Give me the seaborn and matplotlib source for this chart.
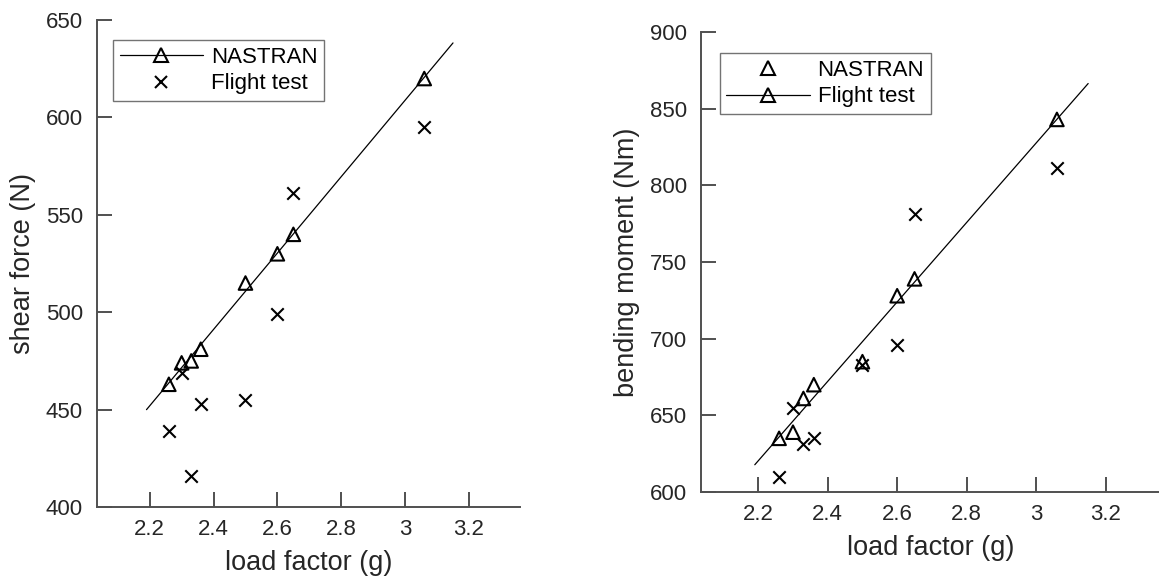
import numpy as np
import pandas as pd
import matplotlib
matplotlib.use("Agg")
import matplotlib.pyplot as plt
from matplotlib.lines import Line2D
import seaborn as sns

# -----------------------------
# Data
# -----------------------------
load_factor = [2.26, 2.30, 2.33, 2.36, 2.50, 2.60, 2.65, 3.06]

shear_nastran = [463, 474, 475, 481, 515, 530, 540, 620]
shear_flight = [439, 469, 416, 453, 455, 499, 561, 595]

moment_nastran = [635, 639, 661, 670, 685, 728, 739, 843]
moment_flight = [610, 655, 631, 635, 683, 696, 781, 811]

fit_range = [2.19, 3.15]

x_ticks = [2.2, 2.4, 2.6, 2.8, 3.0, 3.2]
x_tick_labels = ["2.2", "2.4", "2.6", "2.8", "3", "3.2"]

# -----------------------------
# Style
# -----------------------------
sns.set_style("ticks")
plt.rcParams['font.family'] = ['Liberation Sans', 'DejaVu Sans']
axis_grey = "#505050"
text_grey = "#262626"

fig = plt.figure(figsize=(11.59, 5.81), dpi=100)
ax1 = fig.add_axes([0.0837, 0.1274, 0.365, 0.838])
ax2 = fig.add_axes([0.6048, 0.1532, 0.397, 0.7917])


def draw_panel(ax, nastran, flight, ylim, yticks, ylabel):
    df = pd.DataFrame({"n": load_factor, "nastran": nastran, "flight": flight})
    # linear fit of NASTRAN values
    coef = np.polyfit(df["n"], df["nastran"], 1)
    fit_df = pd.DataFrame({"n": fit_range, "y": np.polyval(coef, fit_range)})
    sns.lineplot(data=fit_df, x="n", y="y", ax=ax, color="black", lw=0.9)
    sns.scatterplot(data=df, x="n", y="nastran", ax=ax, marker="^", s=95,
                    facecolor="none", edgecolor="black", linewidth=1.5, zorder=3)
    sns.scatterplot(data=df, x="n", y="flight", ax=ax, marker="x", s=80,
                    color="black", linewidth=1.5, zorder=3)

    ax.set_xlim(2.035, 3.36)
    ax.set_ylim(*ylim)
    ax.set_xticks(x_ticks)
    ax.set_xticklabels(x_tick_labels)
    ax.set_yticks(yticks)
    ax.tick_params(direction="in", length=11, width=1.4, color=axis_grey,
                   labelsize=16, labelcolor=text_grey)
    ax.tick_params(axis="x", pad=9)
    ax.tick_params(axis="y", pad=10)
    for side in ["top", "right"]:
        ax.spines[side].set_visible(False)
    for side in ["left", "bottom"]:
        ax.spines[side].set_color(axis_grey)
        ax.spines[side].set_linewidth(1.4)
    ax.set_xlabel("load factor (g)", fontsize=19.5, color=text_grey, labelpad=7)
    ax.set_ylabel(ylabel, fontsize=19.5, color=text_grey, labelpad=7)


draw_panel(ax1, shear_nastran, shear_flight, (400, 650),
           [400, 450, 500, 550, 600, 650], "shear force (N)")
draw_panel(ax2, moment_nastran, moment_flight, (600, 900),
           [600, 650, 700, 750, 800, 850, 900], "bending moment (Nm)")

tri_line = Line2D([], [], color="black", lw=0.9, marker="^", markersize=10,
                  markerfacecolor="none", markeredgecolor="black", markeredgewidth=1.5)
tri_only = Line2D([], [], color="black", lw=0, marker="^", markersize=10,
                  markerfacecolor="none", markeredgecolor="black", markeredgewidth=1.5)
cross = Line2D([], [], color="black", lw=0, marker="x", markersize=9,
               markeredgewidth=1.5)

legend_kw = dict(loc="upper left", fontsize=16, frameon=True, fancybox=False,
                 handlelength=3.75, handletextpad=0.35, labelspacing=0.25,
                 borderpad=0.3, borderaxespad=0)

leg1 = ax1.legend([tri_line, cross], ["NASTRAN", "Flight test"],
                  bbox_to_anchor=(0.038, 0.959), **legend_kw)
leg2 = ax2.legend([tri_only, tri_line], ["NASTRAN", "Flight test"],
                  bbox_to_anchor=(0.041, 0.954), **legend_kw)
for leg in (leg1, leg2):
    leg.get_frame().set_edgecolor(axis_grey)
    leg.get_frame().set_linewidth(1.0)
    for t in leg.get_texts():
        t.set_color("black")

plt.savefig("out.png", dpi=100)
plt.close()
